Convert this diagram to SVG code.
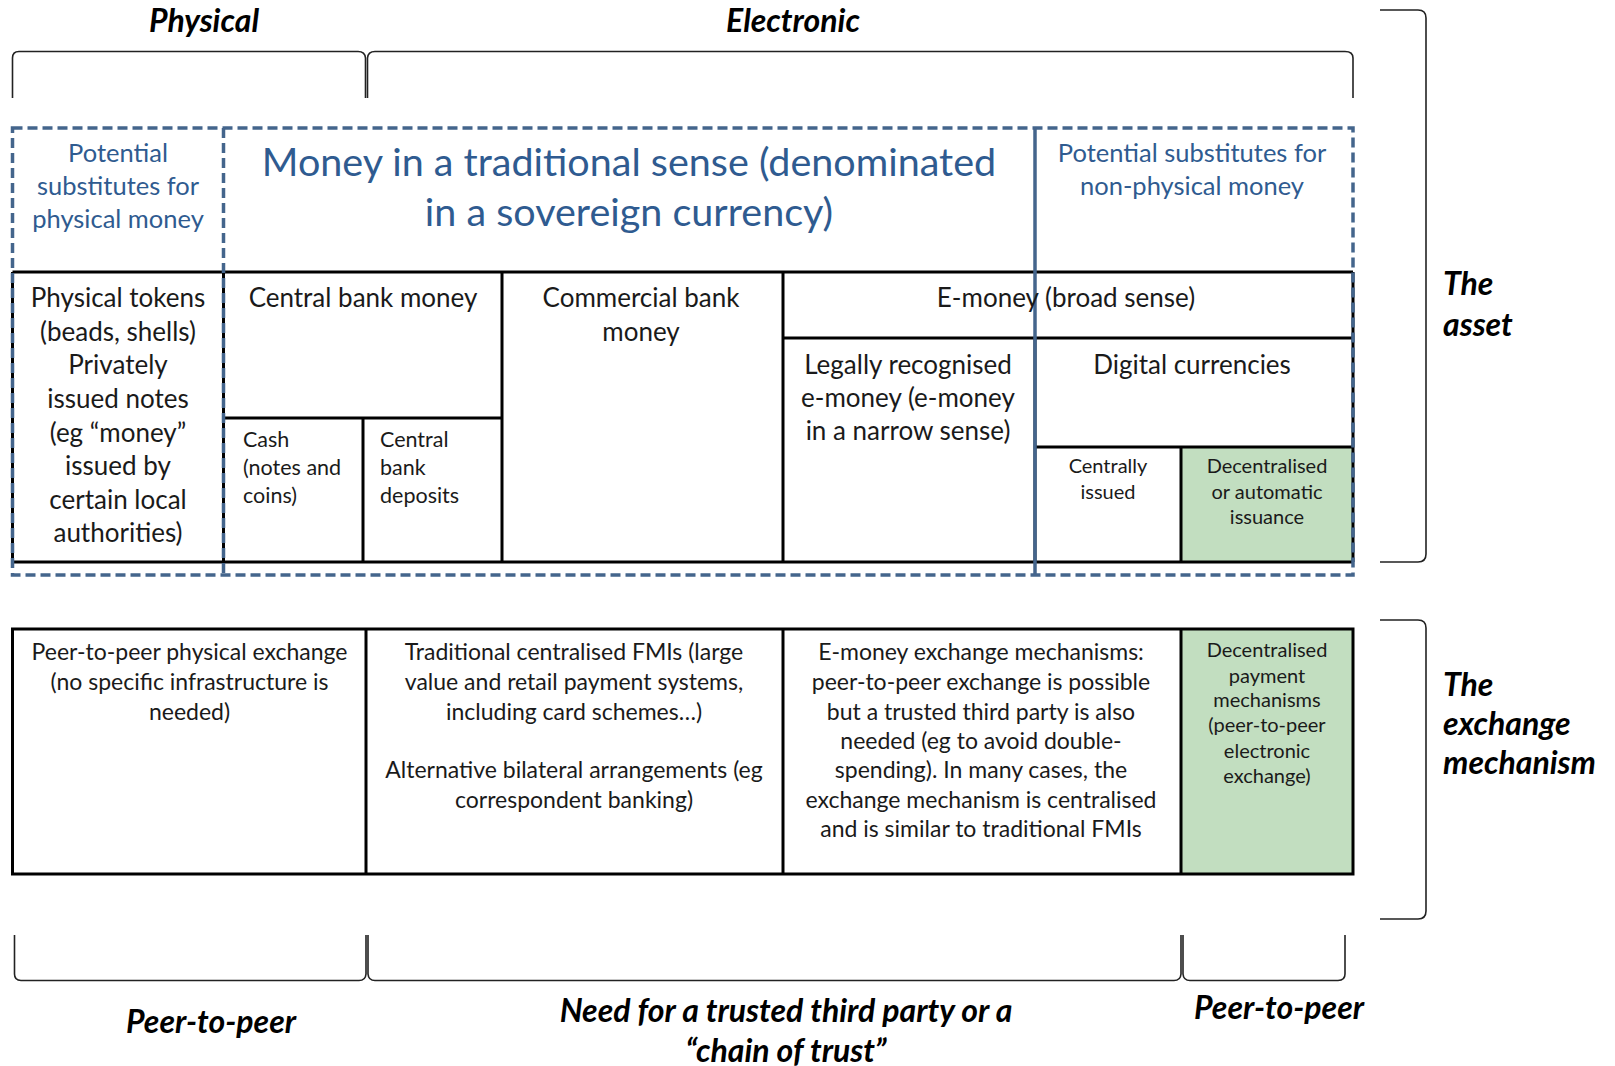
<svg xmlns="http://www.w3.org/2000/svg" width="1615" height="1066" viewBox="0 0 1615 1066">
<style>
text{font-family:Lato,"Liberation Sans",sans-serif;}
.lab{font-weight:bold;font-style:italic;font-size:32px;fill:#000;}
.blue{fill:#2f5b90;}
.t25{font-size:26px;fill:#1a1a1a;text-anchor:middle;}
.t21{font-size:23px;fill:#1a1a1a;text-anchor:middle;}
.t19{font-size:21.5px;fill:#1a1a1a;}
.t17{font-size:20px;fill:#1a1a1a;text-anchor:middle;}
.grid{stroke:#000;stroke-width:3;fill:none;}
.dash{stroke:#44658c;stroke-width:3.5;fill:none;stroke-dasharray:10 5;}
.brk{stroke:#222;stroke-width:1.6;fill:none;}
.green{fill:#c2dec0;}
</style>
<rect width="1615" height="1066" fill="#fff"/>
<g id="brackets">
<path class="brk" d="M12.5 98 V58 Q12.5 51.5 19 51.5 H358 Q365 51.5 365.5 58 V98"/>
<path class="brk" d="M367.5 98 V58 Q368 51.5 375 51.5 H1345 Q1353 51.5 1353 58 V98"/>
<path class="brk" d="M1380 10 H1418 Q1426 10 1426 18 V554 Q1426 562 1418 562 H1380"/>
<path class="brk" d="M1380 620 H1418 Q1426 620 1426 628 V911 Q1426 919 1418 919 H1380"/>
<path class="brk" d="M14.5 935 V974 Q14.5 980.5 21 980.5 H359 Q365.5 980.5 366 974 V935"/>
<path class="brk" d="M368 935 V974 Q368.5 980.5 375 980.5 H1174 Q1180.5 980.5 1181 974 V935"/>
<path class="brk" d="M1183 935 V974 Q1183.5 980.5 1190 980.5 H1338 Q1345 980.5 1345 974 V935"/>
</g>
<g id="labels">
<text class="lab" x="204" y="32" text-anchor="middle">Physical</text>
<text class="lab" x="793" y="32" text-anchor="middle">Electronic</text>
<text class="lab" x="1443" y="295">The</text>
<text class="lab" x="1443" y="336">asset</text>
<text class="lab" x="1443" y="696">The</text>
<text class="lab" x="1443" y="735">exchange</text>
<text class="lab" x="1443" y="774">mechanism</text>
<text class="lab" x="211" y="1033" text-anchor="middle">Peer-to-peer</text>
<text class="lab" x="786" y="1022" text-anchor="middle">Need for a trusted third party or a</text>
<text class="lab" x="786" y="1062" text-anchor="middle">“chain of trust”</text>
<text class="lab" x="1279" y="1019" text-anchor="middle">Peer-to-peer</text>
</g>
<g id="cells">
<rect class="green" x="1181" y="447" width="172" height="115"/>
<rect class="green" x="1181" y="629" width="172" height="245"/>
</g>
<g id="connectors">
<path class="grid" d="M12.5 272 H1353 M12.5 562 H1353 M12.5 272 V562 M1353 272 V562"/>
<path class="grid" d="M223.5 272 V562 M502 272 V562 M363 418 V562 M223.5 418 H502"/>
<path class="grid" stroke-width="4" d="M783 272 V562"/>
<path class="grid" d="M783 338 H1353 M1035 338 V562 M1035 447 H1353 M1181 447 V562"/>
<path class="grid" d="M12.5 629 H1353 V874 H12.5 Z"/>
<path class="grid" d="M366 629 V874 M1181 629 V874"/>
<path class="grid" stroke-width="4" d="M783 629 V874"/>
<path class="dash" d="M12.5 128 H1353 V575 H12.5 Z"/>
<path class="dash" d="M223.5 128 V575"/>
<path stroke="#44658c" stroke-width="3.5" fill="none" d="M1035 128 V575"/>
</g>
<g id="n-physsub">
<text class="blue" font-size="25.5" text-anchor="middle"><tspan x="118" y="162">Potential</tspan><tspan x="118" y="195">substitutes for</tspan><tspan x="118" y="228">physical money</tspan></text>
</g>
<g id="n-traditional">
<text class="blue" font-size="39.5" text-anchor="middle"><tspan x="629" y="176">Money in a traditional sense (denominated</tspan><tspan x="629" y="226">in a sovereign currency)</tspan></text>
</g>
<g id="n-nonphyssub">
<text class="blue" font-size="25.5" text-anchor="middle"><tspan x="1192" y="162">Potential substitutes for</tspan><tspan x="1192" y="195">non-physical money</tspan></text>
</g>
<g id="n-tokens">
<text class="t25"><tspan x="118" y="307">Physical tokens</tspan><tspan x="118" y="341">(beads, shells)</tspan><tspan x="118" y="374">Privately</tspan><tspan x="118" y="408">issued notes</tspan><tspan x="118" y="442">(eg “money”</tspan><tspan x="118" y="475">issued by</tspan><tspan x="118" y="509">certain local</tspan><tspan x="118" y="542">authorities)</tspan></text>
</g>
<g id="n-cbm">
<text class="t25" x="363" y="307">Central bank money</text>
</g>
<g id="n-cash">
<text class="t19"><tspan x="243" y="447">Cash</tspan><tspan x="243" y="475">(notes and</tspan><tspan x="243" y="503">coins)</tspan></text>
</g>
<g id="n-cbd">
<text class="t19"><tspan x="380" y="447">Central</tspan><tspan x="380" y="475">bank</tspan><tspan x="380" y="503">deposits</tspan></text>
</g>
<g id="n-combank">
<text class="t25"><tspan x="641" y="307">Commercial bank</tspan><tspan x="641" y="341">money</tspan></text>
</g>
<g id="n-emoney">
<text class="t25" x="1066" y="307">E-money (broad sense)</text>
</g>
<g id="n-legal">
<text class="t25"><tspan x="908" y="374">Legally recognised</tspan><tspan x="908" y="407">e-money (e-money</tspan><tspan x="908" y="440">in a narrow sense)</tspan></text>
</g>
<g id="n-digital">
<text class="t25" x="1192" y="374">Digital currencies</text>
</g>
<g id="n-central">
<text class="t17"><tspan x="1108" y="473">Centrally</tspan><tspan x="1108" y="499">issued</tspan></text>
</g>
<g id="n-decent">
<text class="t17"><tspan x="1267" y="473">Decentralised</tspan><tspan x="1267" y="499">or automatic</tspan><tspan x="1267" y="524">issuance</tspan></text>
</g>
<g id="n-p2p">
<text class="t21"><tspan x="189.5" y="660">Peer-to-peer physical exchange</tspan><tspan x="189.5" y="690">(no specific infrastructure is</tspan><tspan x="189.5" y="720">needed)</tspan></text>
</g>
<g id="n-fmi">
<text class="t21"><tspan x="574" y="660">Traditional centralised FMIs (large</tspan><tspan x="574" y="690">value and retail payment systems,</tspan><tspan x="574" y="720">including card schemes…)</tspan><tspan x="574" y="778">Alternative bilateral arrangements (eg</tspan><tspan x="574" y="808">correspondent banking)</tspan></text>
</g>
<g id="n-emx">
<text class="t21"><tspan x="981" y="660">E-money exchange mechanisms:</tspan><tspan x="981" y="690">peer-to-peer exchange is possible</tspan><tspan x="981" y="720">but a trusted third party is also</tspan><tspan x="981" y="749">needed (eg to avoid double-</tspan><tspan x="981" y="778">spending). In many cases, the</tspan><tspan x="981" y="808">exchange mechanism is centralised</tspan><tspan x="981" y="837">and is similar to traditional FMIs</tspan></text>
</g>
<g id="n-decpay">
<text class="t17"><tspan x="1267" y="657">Decentralised</tspan><tspan x="1267" y="683">payment</tspan><tspan x="1267" y="707">mechanisms</tspan><tspan x="1267" y="732">(peer-to-peer</tspan><tspan x="1267" y="758">electronic</tspan><tspan x="1267" y="783">exchange)</tspan></text>
</g>
</svg>
